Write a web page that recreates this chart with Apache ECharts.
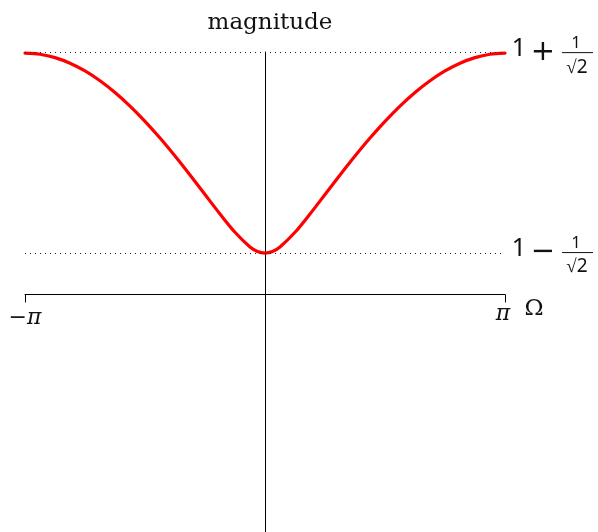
<!DOCTYPE html>
<html>
<head>
<meta charset="utf-8">
<script src="https://cdn.jsdelivr.net/npm/echarts@6/dist/echarts.min.js"></script>
<style>
  html, body { margin: 0; padding: 0; background: #fff; }
  #chart { width: 598px; height: 532px; }
</style>
</head>
<body>
<div id="chart"></div>
<script>
// Frequency samples, in units of pi
const omegaOverPi = [
  -1, -0.9375, -0.875, -0.8125, -0.75, -0.6875, -0.625, -0.5625,
  -0.5, -0.4375, -0.375, -0.3125, -0.25, -0.1875, -0.125, -0.0625, -0.03125,
  0,
  0.03125, 0.0625, 0.125, 0.1875, 0.25, 0.3125, 0.375, 0.4375,
  0.5, 0.5625, 0.625, 0.6875, 0.75, 0.8125, 0.875, 0.9375, 1
];
// Magnitude response |H(Omega)|
const magnitude = [
  1.7071, 1.6991, 1.6753, 1.6358, 1.5811, 1.5118, 1.4287, 1.3326,
  1.2247, 1.1064, 0.9792, 0.8452, 0.7071, 0.5693, 0.4398, 0.3361, 0.3043,
  0.2929,
  0.3043, 0.3361, 0.4398, 0.5693, 0.7071, 0.8452, 0.9792, 1.1064,
  1.2247, 1.3326, 1.4287, 1.5118, 1.5811, 1.6358, 1.6753, 1.6991, 1.7071
];
// Reference levels 1 ± 1/sqrt(2)
const levelHigh = 1.7071;
const levelLow = 0.2929;
const levelSigns = ['+', '\u2212'];
// Axis extent and labels
const yTop = 1.715;
const yBottom = -1.68;
const xTickLabels = ['\u2212\u03c0', '\u03c0'];
const xAxisName = '\u03a9';

const chart = echarts.init(document.getElementById('chart'), null, { renderer: 'canvas' });

const points = omegaOverPi.map((w, i) => [w * Math.PI, magnitude[i]]);

chart.setOption({
  animation: false,
  backgroundColor: '#fff',
  title: {
    text: 'magnitude',
    left: 265,
    textAlign: 'center',
    top: 7,
    textStyle: { fontFamily: 'DejaVu Serif', fontSize: 23, fontWeight: 'normal', color: '#111' }
  },
  grid: { left: 25, right: 93, top: 52, bottom: 0, containLabel: false, outerBoundsMode: 'none' },
  xAxis: {
    type: 'value',
    min: -Math.PI,
    max: Math.PI,
    interval: Math.PI,
    axisLine: { onZero: true, lineStyle: { color: '#000', width: 1 } },
    axisTick: { show: true, length: 8, lineStyle: { color: '#000', width: 1 } },
    axisLabel: { show: false },
    splitLine: { show: false }
  },
  yAxis: {
    type: 'value',
    min: yBottom,
    max: yTop,
    axisLine: { show: true, onZero: true, lineStyle: { color: '#000', width: 1 } },
    axisTick: { show: false },
    axisLabel: { show: false },
    splitLine: { show: false }
  },
  series: [{
    type: 'line',
    data: points,
    smooth: 0.3,
    showSymbol: false,
    clip: false,
    lineStyle: { color: '#ff0000', width: 3.2, cap: 'round' },
    markLine: {
      silent: true,
      symbol: 'none',
      label: { show: false },
      lineStyle: { color: '#222', width: 1, type: [1, 4] },
      data: [{ yAxis: levelHigh }, { yAxis: levelLow }]
    },
    z: 3
  }]
});

const ink = '#111';

function textEl(x, y, text, font, align) {
  return {
    type: 'text', x: x, y: y,
    style: { text: text, font: font, fill: ink,
             textAlign: align, align: align, textVerticalAlign: 'middle', verticalAlign: 'middle' }
  };
}

// Level labels "1 ± 1/√2" drawn to the right of the plot
function levelLabel(level, sign) {
  const p = chart.convertToPixel({ gridIndex: 0 }, [Math.PI, level]);
  const x0 = p[0];
  const y = p[1];
  return [
    textEl(x0 + 14, y - 4, '1', '25px "Noto Sans"', 'center'),
    textEl(x0 + 38, y - 1, sign, '29px "DejaVu Sans"', 'center'),
    textEl(x0 + 71, y - 10, '1', '16px "Noto Sans"', 'center'),
    { type: 'line', shape: { x1: x0 + 57, y1: y - 0.5, x2: x0 + 88, y2: y - 0.5 },
      style: { stroke: ink, lineWidth: 1 } },
    textEl(x0 + 72, y + 14, '\u221a2', '19px "Noto Sans"', 'center')
  ];
}

// Tick labels and axis name placed along the horizontal axis
function axisLabels() {
  const left = chart.convertToPixel({ gridIndex: 0 }, [-Math.PI, 0]);
  const right = chart.convertToPixel({ gridIndex: 0 }, [Math.PI, 0]);
  const font = 'italic 22px "DejaVu Serif"';
  return [
    textEl(left[0], left[1] + 24, xTickLabels[0], font, 'center'),
    textEl(right[0] - 2, right[1] + 20, xTickLabels[1], font, 'center'),
    textEl(right[0] + 29, right[1] + 15, xAxisName, '23px "DejaVu Serif"', 'center')
  ];
}

chart.setOption({
  graphic: [].concat(
    levelLabel(levelHigh, levelSigns[0]),
    levelLabel(levelLow, levelSigns[1]),
    axisLabels()
  )
});
</script>
</body>
</html>
